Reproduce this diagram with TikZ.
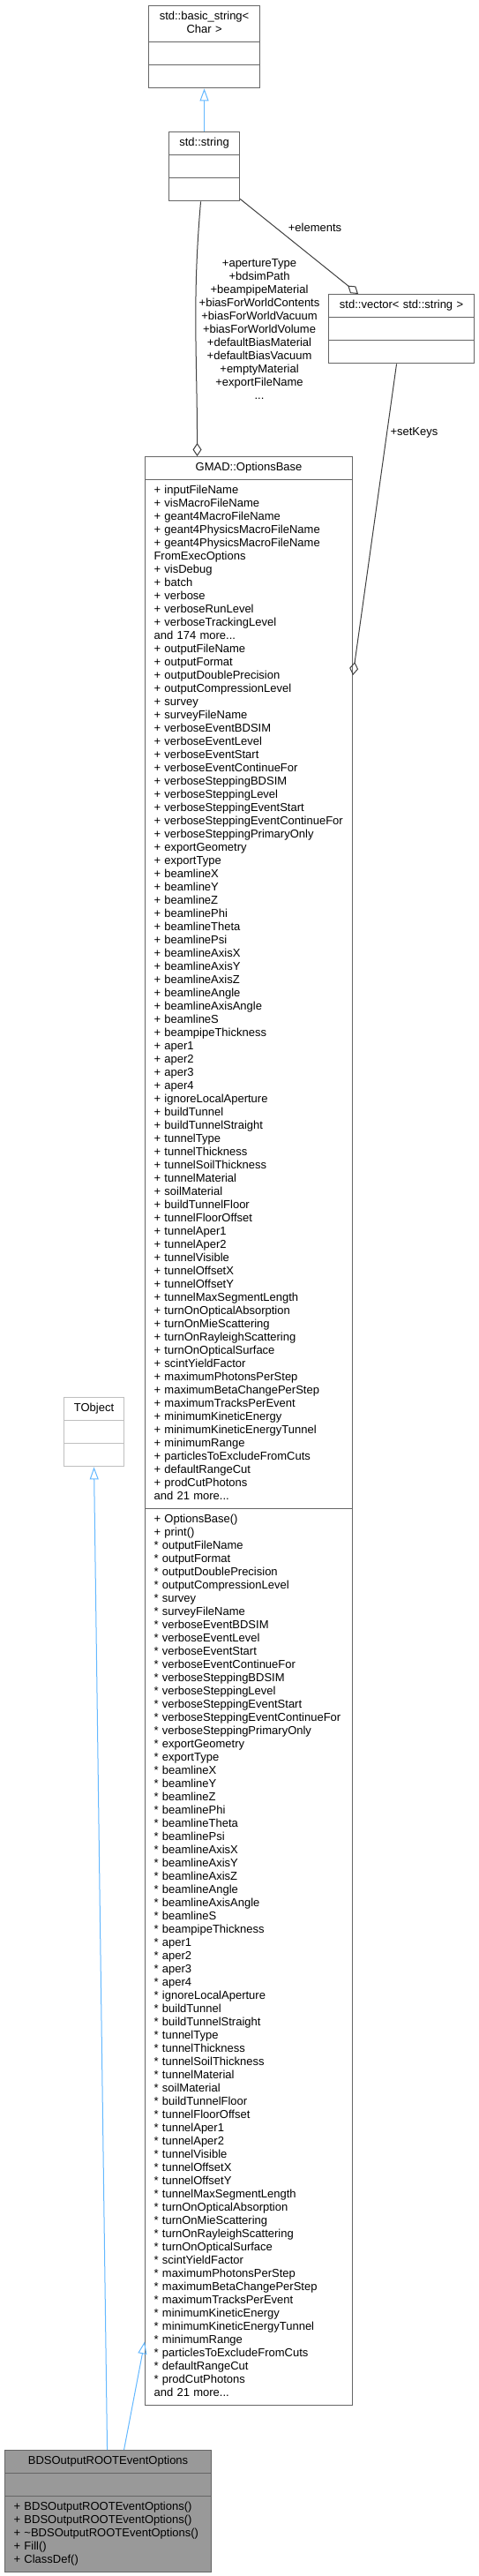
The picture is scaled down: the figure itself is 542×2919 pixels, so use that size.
\documentclass[tikz,border=0pt]{standalone}
\usepackage{fontspec}
\setmainfont{Liberation Sans}
\usetikzlibrary{shapes.multipart,arrows.meta}
\definecolor{edgegray}{HTML}{404040}
\definecolor{boxgray}{HTML}{666666}
\definecolor{extgray}{HTML}{BFBFBF}
\definecolor{inhblue}{HTML}{63B8FF}
\definecolor{curfill}{HTML}{999999}
% the option members that are listed twice in GMAD::OptionsBase
\newcommand{\optlines}[1]{%
#1 outputFileName\\
#1 outputFormat\\
#1 outputDoublePrecision\\
#1 outputCompressionLevel\\
#1 survey\\
#1 surveyFileName\\
#1 verboseEventBDSIM\\
#1 verboseEventLevel\\
#1 verboseEventStart\\
#1 verboseEventContinueFor\\
#1 verboseSteppingBDSIM\\
#1 verboseSteppingLevel\\
#1 verboseSteppingEventStart\\
#1 verboseSteppingEventContinueFor\\
#1 verboseSteppingPrimaryOnly\\
#1 exportGeometry\\
#1 exportType\\
#1 beamlineX\\
#1 beamlineY\\
#1 beamlineZ\\
#1 beamlinePhi\\
#1 beamlineTheta\\
#1 beamlinePsi\\
#1 beamlineAxisX\\
#1 beamlineAxisY\\
#1 beamlineAxisZ\\
#1 beamlineAngle\\
#1 beamlineAxisAngle\\
#1 beamlineS\\
#1 beampipeThickness\\
#1 aper1\\
#1 aper2\\
#1 aper3\\
#1 aper4\\
#1 ignoreLocalAperture\\
#1 buildTunnel\\
#1 buildTunnelStraight\\
#1 tunnelType\\
#1 tunnelThickness\\
#1 tunnelSoilThickness\\
#1 tunnelMaterial\\
#1 soilMaterial\\
#1 buildTunnelFloor\\
#1 tunnelFloorOffset\\
#1 tunnelAper1\\
#1 tunnelAper2\\
#1 tunnelVisible\\
#1 tunnelOffsetX\\
#1 tunnelOffsetY\\
#1 tunnelMaxSegmentLength\\
#1 turnOnOpticalAbsorption\\
#1 turnOnMieScattering\\
#1 turnOnRayleighScattering\\
#1 turnOnOpticalSurface\\
#1 scintYieldFactor\\
#1 maximumPhotonsPerStep\\
#1 maximumBetaChangePerStep\\
#1 maximumTracksPerEvent\\
#1 minimumKineticEnergy\\
#1 minimumKineticEnergyTunnel\\
#1 minimumRange\\
#1 particlesToExcludeFromCuts\\
#1 defaultRangeCut\\
#1 prodCutPhotons}
% a centred title of a class box, lines split by \\
\newcommand{\clstitle}[1]{\centerline{\begin{tabular}{@{}c@{}}#1\end{tabular}}}
\begin{document}
\begin{tikzpicture}[x=1pt, y=1pt,
    cls/.style={rectangle split, rectangle split parts=3, draw=boxgray, line width=1.1pt,
      fill=white, anchor=north west, align=left, inner xsep=10pt, inner ysep=5pt,
      text width=#1pt-20pt, font=\fontsize{13}{15}\selectfont},
    inh/.style={draw=inhblue, line width=1pt, -{Triangle[open,length=14pt,width=10pt]}},
    agg/.style={draw=edgegray, line width=1pt, -{Diamond[open,length=15pt,width=10pt]}},
    lbl/.style={font=\fontsize{13}{15}\selectfont}]
    \fill[white] (0,0) rectangle (542,-2919);
    \node[cls=126] (bs) at (168,-6) {\clstitle{std::basic\_string<\\Char >}
      \nodepart{second}\strut \nodepart{third}\strut};
    \node[cls=80] (str) at (191,-149) {\clstitle{std::string}
      \nodepart{second}\strut \nodepart{third}\strut};
    \node[cls=165] (vec) at (372,-333) {\clstitle{std::vector< std::string >}
      \nodepart{second}\strut \nodepart{third}\strut};
    \node[cls=235] (os) at (164,-517) {\clstitle{GMAD::OptionsBase}
      \nodepart{second}\strut + inputFileName\\
      + visMacroFileName\\
      + geant4MacroFileName\\
      + geant4PhysicsMacroFileName\\
      + geant4PhysicsMacroFileName\\
      FromExecOptions\\
      + visDebug\\
      + batch\\
      + verbose\\
      + verboseRunLevel\\
      + verboseTrackingLevel\\
      and 174 more...\\
      \optlines{+}\\
      and 21 more...\strut
      \nodepart{third}\strut + OptionsBase()\\
      + print()\\
      \optlines{{*}}\\
      and 21 more...\strut};
    \node[cls=68, draw=extgray] (tobj) at (72,-1583) {\clstitle{TObject}
      \nodepart{second}\strut \nodepart{third}\strut};
    \node[cls=234, fill=curfill] (bds) at (5,-2776) {\clstitle{BDSOutputROOTEventOptions}
      \nodepart{second}\strut
      \nodepart{third}\strut + BDSOutputROOTEventOptions()\\
      + BDSOutputROOTEventOptions()\\
      + \textasciitilde BDSOutputROOTEventOptions()\\
      + Fill()\\
      + ClassDef()\strut};
    \draw[inh] (str) -- (bs);
    \draw[inh] ([xshift=-1pt]bds.north) -- (tobj.south);
    \draw[inh] ([xshift=18pt]bds.north) -- ([yshift=73pt]os.south west);
    \draw[agg] ([yshift=3pt]str.south east) -- ([xshift=34pt]vec.north west)
      node[pos=.38,above right,lbl] {+elements};
    \draw[agg] ([xshift=-4pt]str.south) to[out=265,in=90]
      node[pos=.5,right,lbl,align=center] {+apertureType\\+bdsimPath\\+beampipeMaterial\\
        +biasForWorldContents\\+biasForWorldVacuum\\+biasForWorldVolume\\
        +defaultBiasMaterial\\+defaultBiasVacuum\\+emptyMaterial\\+exportFileName\\...}
      ([xshift=-58.5pt]os.north);
    \draw[agg] ([xshift=-5.5pt]vec.south) -- ([yshift=-248pt]os.north east)
      node[pos=.22,right,lbl] {+setKeys};
  \end{tikzpicture}
\end{document}
